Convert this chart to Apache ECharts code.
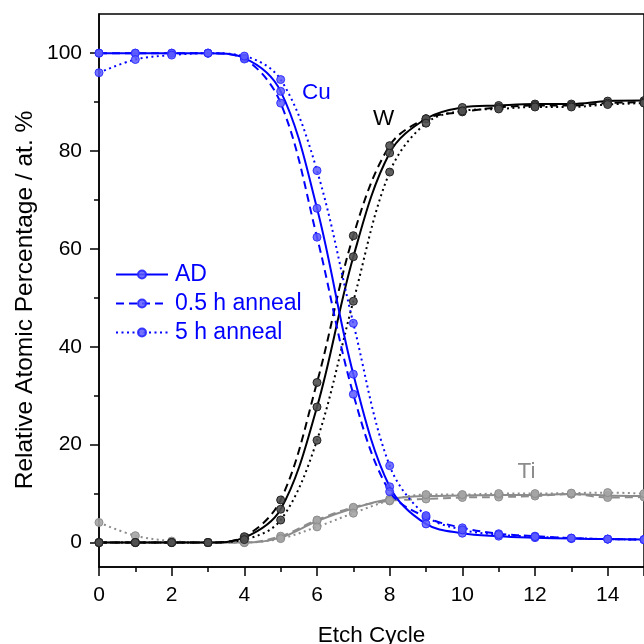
<!DOCTYPE html>
<html>
<head>
<meta charset="utf-8">
<script src="https://cdn.jsdelivr.net/npm/echarts@6/dist/echarts.min.js"></script>
<style>
  html, body { margin: 0; padding: 0; background: #fff; }
  #chart { width: 644px; height: 644px; }
</style>
</head>
<body>
<div id="chart"></div>
<script>
// Etch cycles
const cycles = [0, 1, 2, 3, 4, 5, 6, 7, 8, 9, 10, 11, 12, 13, 14, 15];

// Cu profiles
const cuAD     = [100, 100, 100, 100, 99.0, 92.2, 68.3, 34.4, 11.4, 3.8, 1.9, 1.3, 1.0, 0.8, 0.7, 0.6];
const cuHalfH  = [100, 100, 100, 100, 98.8, 89.8, 62.4, 30.3, 10.4, 5.2, 3.0, 1.8, 1.3, 0.9, 0.7, 0.6];
const cuFiveH  = [96.0, 98.7, 99.6, 100, 99.4, 94.6, 76.0, 44.8, 15.7, 5.5, 2.6, 1.6, 1.2, 0.9, 0.7, 0.6];

// W profiles
const wAD      = [0, 0, 0, 0, 1.0, 6.8, 27.7, 58.4, 79.6, 86.6, 88.9, 89.3, 89.6, 89.6, 90.2, 90.3];
const wHalfH   = [0, 0, 0, 0, 1.2, 8.7, 32.7, 62.7, 81.1, 86.6, 88.0, 88.9, 89.3, 89.3, 89.8, 90.0];
const wFiveH   = [0, 0, 0, 0, 0.6, 4.6, 20.9, 49.3, 75.7, 85.7, 88.2, 88.6, 89.0, 89.0, 89.5, 89.8];

// Ti profiles
const tiAD     = [0, 0, 0, 0, 0, 1.0, 4.4, 7.0, 8.9, 9.5, 9.6, 9.7, 9.7, 9.9, 9.6, 9.5];
const tiHalfH  = [0, 0, 0, 0, 0, 1.3, 4.6, 7.2, 8.5, 8.9, 9.2, 9.3, 9.5, 9.9, 9.2, 9.3];
const tiFiveH  = [4.1, 1.4, 0.3, 0, 0, 0.8, 3.2, 6.0, 8.6, 9.8, 9.8, 10.0, 10.0, 10.1, 10.2, 10.0];

// Axis ticks
const yMajorTicks = [0, 20, 40, 60, 80, 100];
const yMinorTicks = [10, 30, 50, 70, 90];

const legendNames = ['AD', '0.5 h anneal', '5 h anneal'];
const yTitle = 'Relative Atomic Percentage / at. %';

// Element labels placed in data coordinates
const elementLabels = [
  { text: 'Cu', x: 5.59, y: 91.8, color: '#0000ff' },
  { text: 'W',  x: 7.54, y: 86.5, color: '#000000' },
  { text: 'Ti', x: 11.52, y: 14.4, color: '#8c8c8c' }
];

const FONT = '"Liberation Sans", Arial, sans-serif';

const pair = arr => arr.map((v, i) => [cycles[i], v]);

const dashTypes = ['solid', [8, 5], [2, 3.5]];

function profile(name, values, lineColor, markerFill, markerBorder, styleIdx, z) {
  return {
    name: name,
    type: 'line',
    data: pair(values),
    smooth: 0.35,
    symbol: 'circle',
    symbolSize: 8,
    showSymbol: true,
    clip: true,
    z: z,
    lineStyle: { color: lineColor, width: 2, type: dashTypes[styleIdx] },
    itemStyle: { color: markerFill, borderColor: markerBorder, borderWidth: 1 },
    emphasis: { disabled: true },
    animation: false
  };
}

const cuColor = '#0000ff', cuFill = 'rgba(90,90,255,0.85)', cuEdge = 'rgba(40,40,255,0.9)';
const wColor = '#000000', wFill = 'rgba(80,80,80,0.9)', wEdge = '#222222';
const tiColor = '#8c8c8c', tiFill = 'rgba(165,165,165,0.9)', tiEdge = '#8c8c8c';

const series = [
  profile('Ti-AD', tiAD, tiColor, tiFill, tiEdge, 0, 2),
  profile('Ti-0.5', tiHalfH, tiColor, tiFill, tiEdge, 1, 2),
  profile('Ti-5', tiFiveH, tiColor, tiFill, tiEdge, 2, 2),
  profile('W-AD', wAD, wColor, wFill, wEdge, 0, 3),
  profile('W-0.5', wHalfH, wColor, wFill, wEdge, 1, 3),
  profile('W-5', wFiveH, wColor, wFill, wEdge, 2, 3),
  profile(legendNames[0], cuAD, cuColor, cuFill, cuEdge, 0, 4),
  profile(legendNames[1], cuHalfH, cuColor, cuFill, cuEdge, 1, 4),
  profile(legendNames[2], cuFiveH, cuColor, cuFill, cuEdge, 2, 4)
];

const chart = echarts.init(document.getElementById('chart'), null, { renderer: 'canvas' });

const axisLineStyle = { color: '#000', width: 1.5 };

chart.setOption({
  animation: false,
  backgroundColor: '#ffffff',
  textStyle: { fontFamily: FONT },
  grid: {
    left: 99, right: 0, top: 14, bottom: 77,
    outerBoundsMode: 'none',
    containLabel: false,
    show: true, borderColor: '#000', borderWidth: 1.5, backgroundColor: 'transparent'
  },
  legend: {
    data: legendNames,
    orient: 'vertical',
    left: 110, top: 258,
    itemWidth: 52, itemHeight: 10, itemGap: 6,
    textStyle: { color: '#0000ff', fontSize: 23, fontFamily: FONT, padding: [0, 0, 0, 2] },
    selectedMode: false
  },
  xAxis: {
    type: 'value',
    min: 0, max: 15, interval: 2,
    name: 'Etch Cycle',
    nameLocation: 'middle',
    nameGap: 57,
    nameTextStyle: { color: '#000', fontSize: 22.5, fontFamily: FONT },
    axisLine: { show: true, onZero: false, lineStyle: axisLineStyle },
    axisTick: { show: true, inside: false, length: 9, lineStyle: axisLineStyle },
    minorTick: { show: true, splitNumber: 2, length: 5, lineStyle: axisLineStyle },
    axisLabel: { color: '#000', fontSize: 21, fontFamily: FONT, margin: 18, showMaxLabel: false },
    splitLine: { show: false },
    minorSplitLine: { show: false }
  },
  yAxis: [
    {
      type: 'value',
      min: -5, max: 108,
      position: 'left',
      axisLine: { show: true, onZero: false, lineStyle: axisLineStyle },
      axisTick: { show: true, inside: false, length: 9, lineStyle: axisLineStyle, customValues: yMajorTicks },
      axisLabel: { color: '#000', fontSize: 21, fontFamily: FONT, margin: 17, customValues: yMajorTicks },
      splitLine: { show: false }
    },
    {
      type: 'value',
      min: -5, max: 108,
      position: 'left',
      offset: 0,
      axisLine: { show: false },
      axisTick: { show: true, inside: false, length: 5, lineStyle: axisLineStyle, customValues: yMinorTicks },
      axisLabel: { show: false },
      splitLine: { show: false }
    }
  ],
  series: series
});

// Element labels positioned through the chart's own coordinate system,
// plus the vertical axis title
const labelGraphics = elementLabels.map(lbl => {
  const p = chart.convertToPixel({ gridIndex: 0 }, [lbl.x, lbl.y]);
  return {
    type: 'text',
    x: p[0], y: p[1],
    z: 10,
    style: {
      text: lbl.text, fill: lbl.color, fontSize: 22.5, fontFamily: FONT,
      textAlign: 'left', textVerticalAlign: 'middle'
    }
  };
});
labelGraphics.push({
  type: 'text',
  x: 25, y: 300,
  rotation: Math.PI / 2,
  z: 10,
  style: {
    text: yTitle, fill: '#000', fontSize: 24.5, fontFamily: FONT,
    textAlign: 'center', textVerticalAlign: 'middle'
  }
});
chart.setOption({ graphic: labelGraphics });
</script>
</body>
</html>
